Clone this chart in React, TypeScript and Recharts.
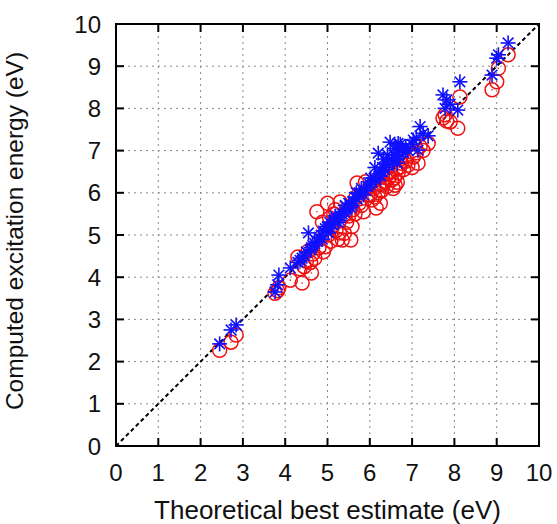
import React from 'react';
import {
  ScatterChart,
  Scatter,
  XAxis,
  YAxis,
  CartesianGrid,
  ReferenceLine,
  ReferenceArea,
} from 'recharts';

// theoretical best estimates (eV), one per excited state
const tbe = [
  2.45, 2.72, 2.84, 3.76, 3.82, 3.85, 4.12, 4.3, 4.4, 4.45,
  4.5, 4.55, 4.62, 4.65, 4.7, 4.75, 4.8, 4.85, 4.9, 4.95,
  5.0, 5.02, 5.05, 5.1, 5.15, 5.2, 5.25, 5.3, 5.35, 5.4,
  5.45, 5.5, 5.55, 5.6, 5.65, 5.7, 5.75, 5.8, 5.9, 5.95,
  6.0, 6.05, 6.1, 6.15, 6.2, 6.22, 6.28, 6.3, 6.35, 6.4,
  6.45, 6.48, 6.52, 6.55, 6.6, 6.62, 6.67, 6.7, 6.75, 6.8,
  6.85, 7.03, 7.1, 7.14, 7.19, 7.26, 7.38, 7.73, 7.78, 7.82,
  7.9, 8.08, 8.13, 8.89, 9.0, 9.04, 9.27,
  4.35, 4.6, 4.88, 5.08, 5.18, 5.28, 5.42, 5.58, 5.68, 5.85,
  6.02, 6.12, 6.25, 6.32, 6.42, 6.58, 6.65, 6.72, 6.9, 7.0,
];

// red circles
const methodA = [
  2.27, 2.46, 2.63, 3.62, 3.68, 3.75, 3.93, 4.48, 3.86, 4.25,
  4.38, 4.62, 4.1, 4.55, 4.45, 5.55, 4.7, 4.95, 4.6, 4.72,
  5.75, 5.0, 5.4, 5.2, 5.5, 5.1, 4.9, 5.78, 4.88, 5.04,
  5.3, 5.45, 4.88, 5.6, 5.5, 6.23, 5.75, 5.7, 6.26, 5.95,
  5.95, 5.83, 6.1, 5.64, 6.0, 6.2, 6.05, 6.4, 6.25, 6.15,
  6.35, 6.5, 6.3, 6.1, 6.18, 6.55, 6.47, 6.6, 6.7, 6.55,
  6.75, 6.85, 6.95, 6.7, 7.1, 7.0, 7.17, 7.77, 7.85, 7.7,
  7.68, 7.53, 8.27, 8.44, 8.63, 8.95, 9.27,
  4.2, 4.35, 5.3, 4.85, 5.6, 5.05, 5.5, 5.2, 5.9, 5.55,
  6.15, 5.9, 5.75, 6.2, 6.45, 6.35, 6.25, 6.8, 6.65, 6.6,
];

// blue asterisks
const methodB = [
  2.42, 2.75, 2.87, 3.65, 3.82, 4.05, 4.22, 4.35, 4.45, 4.5,
  4.6, 5.05, 4.7, 4.75, 4.8, 4.85, 4.95, 5.0, 5.1, 5.15,
  5.2, 5.05, 5.3, 5.25, 5.35, 5.4, 5.3, 5.45, 5.5, 5.55,
  5.6, 5.75, 5.65, 5.8, 5.9, 5.85, 6.0, 6.1, 6.05, 6.15,
  6.2, 6.25, 6.35, 6.3, 6.94, 6.45, 6.5, 6.6, 6.55, 6.7,
  6.65, 7.2, 6.8, 6.75, 6.9, 7.0, 7.17, 6.85, 7.05, 6.95,
  7.1, 7.25, 7.3, 7.01, 7.57, 7.41, 7.35, 8.32, 8.0, 8.2,
  8.1, 7.96, 8.63, 8.79, 9.19, 9.27, 9.55,
  4.4, 4.65, 4.9, 5.15, 5.45, 5.35, 5.7, 5.7, 6.0, 5.95,
  6.35, 6.6, 6.4, 6.8, 6.9, 7.05, 6.7, 7.15, 7.0, 7.15,
];

const ticks = [0, 1, 2, 3, 4, 5, 6, 7, 8, 9, 10];
const diagonal = [
  { x: 0, y: 0 },
  { x: 10, y: 10 },
];

const redPoints = tbe.map((x, i) => ({ x, y: methodA[i] }));
const bluePoints = tbe.map((x, i) => ({ x, y: methodB[i] }));

const W = 557;
const H = 524;
const LEFT = 116;
const RIGHT = 539;
const TOP = 24;
const BOTTOM = 446;
const FONT = '"Liberation Sans", Arial, Helvetica, sans-serif';

const XTick = (p: any) => (
  <g>
    <line x1={p.x} x2={p.x} y1={BOTTOM} y2={BOTTOM - 8} stroke="#000" strokeWidth={2} />
    <line x1={p.x} x2={p.x} y1={TOP} y2={TOP + 8} stroke="#000" strokeWidth={2} />
    <text x={p.x} y={481} textAnchor="middle" fontSize={24} fontFamily={FONT} fill="#111">
      {p.payload.value}
    </text>
  </g>
);

const YTick = (p: any) => (
  <g>
    <line x1={LEFT} x2={LEFT + 8} y1={p.y} y2={p.y} stroke="#000" strokeWidth={2} />
    <line x1={RIGHT} x2={RIGHT - 8} y1={p.y} y2={p.y} stroke="#000" strokeWidth={2} />
    <text x={101} y={p.y + 8.5} textAnchor="end" fontSize={24} fontFamily={FONT} fill="#111">
      {p.payload.value}
    </text>
  </g>
);

const Ring = (p: any) => (
  <g>
    <circle cx={p.cx} cy={p.cy} r={7} fill="none" stroke="#ee1111" strokeWidth={1.5} />
    <circle cx={p.cx} cy={p.cy} r={0.8} fill="#ee1111" />
  </g>
);

const Star = (p: any) => {
  const { cx, cy } = p;
  const s = 7.5;
  const d = 5.3;
  return (
    <g stroke="#1010ff" strokeWidth={1.6}>
      <line x1={cx - s} x2={cx + s} y1={cy} y2={cy} />
      <line x1={cx} x2={cx} y1={cy - s} y2={cy + s} />
      <line x1={cx - d} x2={cx + d} y1={cy - d} y2={cy + d} />
      <line x1={cx - d} x2={cx + d} y1={cy + d} y2={cy - d} />
    </g>
  );
};

export default function App() {
  return (
    <div style={{ position: 'absolute', left: 0, top: 0, width: W, height: H, background: '#fff' }}>
      <ScatterChart width={W} height={H} margin={{ top: TOP, right: W - RIGHT, bottom: 0, left: 0 }}>
        <CartesianGrid stroke="#8a8a8a" strokeDasharray="2 4" strokeWidth={1} />
        <XAxis
          type="number"
          dataKey="x"
          domain={[0, 10]}
          ticks={ticks}
          height={H - BOTTOM}
          axisLine={false}
          tickLine={false}
          tick={<XTick />}
          label={{
            content: () => (
              <text x={(LEFT + RIGHT) / 2} y={519} textAnchor="middle" fontSize={26} fontFamily={FONT} fill="#111">
                Theoretical best estimate (eV)
              </text>
            ),
          }}
        />
        <YAxis
          type="number"
          dataKey="y"
          domain={[0, 10]}
          ticks={ticks}
          width={LEFT}
          axisLine={false}
          tickLine={false}
          tick={<YTick />}
          label={{
            content: () => (
              <text
                x={23}
                y={231}
                transform="rotate(-90, 23, 231)"
                textAnchor="middle"
                fontSize={24.5}
                fontFamily={FONT}
                fill="#111"
              >
                Computed excitation energy (eV)
              </text>
            ),
          }}
        />
        <ReferenceArea x1={0} x2={10} y1={0} y2={10} fill="none" stroke="#000" strokeWidth={2} ifOverflow="visible" />
        <Scatter data={redPoints} shape={<Ring />} isAnimationActive={false} />
        <Scatter data={bluePoints} shape={<Star />} isAnimationActive={false} />
        <ReferenceLine segment={diagonal} stroke="#000" strokeWidth={2} strokeDasharray="4 3" ifOverflow="visible" />
      </ScatterChart>
    </div>
  );
}
